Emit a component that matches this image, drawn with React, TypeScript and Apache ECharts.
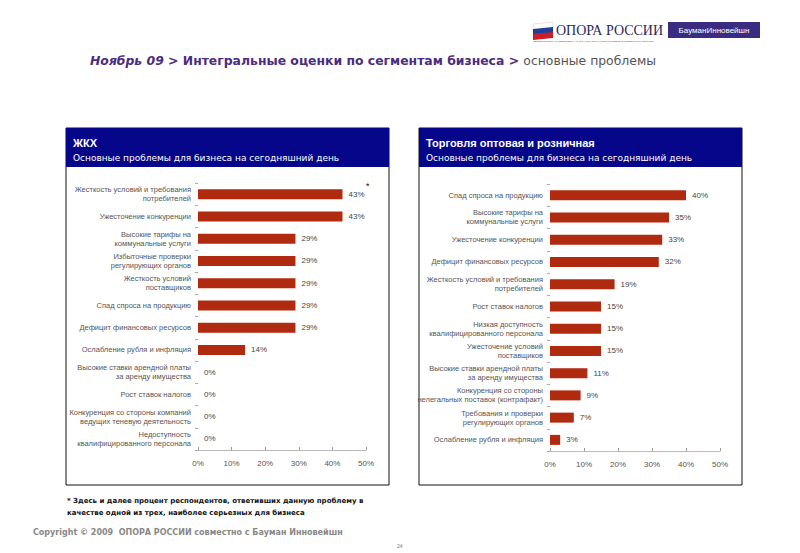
import React, { useEffect, useRef } from "react";
import * as echarts from "echarts";

const leftCategories = [
  "Жесткость условий и требования\nпотребителей",
  "Ужесточение конкуренции",
  "Высокие тарифы на\nкоммунальные услуги",
  "Избыточные проверки\nрегулирующих органов",
  "Жесткость условий\nпоставщиков",
  "Спад спроса на продукцию",
  "Дефицит финансовых ресурсов",
  "Ослабление рубля и инфляция",
  "Высокие ставки арендной платы\nза аренду имущества",
  "Рост ставок налогов",
  "Конкуренция со стороны компаний\nведущих теневую деятельность",
  "Недоступность\nквалифицированного персонала",
];
const leftValues = [43, 43, 29, 29, 29, 29, 29, 14, 0, 0, 0, 0];

const rightCategories = [
  "Спад спроса на продукцию",
  "Высокие тарифы на\nкоммунальные услуги",
  "Ужесточение конкуренции",
  "Дефицит финансовых ресурсов",
  "Жесткость условий и требования\nпотребителей",
  "Рост ставок налогов",
  "Низкая доступность\nквалифицированного персонала",
  "Ужесточение условий\nпоставщиков",
  "Высокие ставки арендной платы\nза аренду имущества",
  "Конкуренция со стороны\nнелегальных поставок (контрафакт)",
  "Требования и проверки\nрегулирующих органов",
  "Ослабление рубля и инфляция",
];
const rightValues = [40, 35, 33, 32, 19, 15, 15, 15, 11, 9, 7, 3];

const xTicks = [0, 10, 20, 30, 40, 50];

const BAR = "#b02a10";
const NAVY = "#06068a";

export default function App() {
  const ref = useRef<HTMLDivElement>(null);
  useEffect(() => {
    if (!ref.current) return;
    const chart = echarts.init(ref.current, null, { renderer: "svg" });

    const xAxisCfg = (gridIndex: number) => ({
      type: "value" as const,
      gridIndex,
      min: xTicks[0],
      max: xTicks[xTicks.length - 1],
      interval: 10,
      axisLine: { show: true, lineStyle: { color: "#b8b8b8", width: 1 } },
      axisTick: { show: true, inside: true, length: 3, lineStyle: { color: "#999" } },
      splitLine: { show: false },
      axisLabel: {
        formatter: "{value}%",
        fontSize: 8,
        color: "#555",
        fontFamily: "Liberation Sans, Arial, sans-serif",
        margin: 9,
      },
    });
    const yAxisCfg = (gridIndex: number, data: string[]) => ({
      type: "category" as const,
      gridIndex,
      data,
      inverse: true,
      axisLine: { show: false },
      axisTick: { show: true, length: 3, lineStyle: { color: "#aaa" } },
      axisLabel: {
        fontSize: 7.5,
        color: "#555",
        lineHeight: 9,
        margin: 7,
        fontFamily: "Liberation Sans, Arial, sans-serif",
      },
    });
    const seriesCfg = (i: number, data: number[]) => ({
      type: "bar" as const,
      xAxisIndex: i,
      yAxisIndex: i,
      data,
      barWidth: 10,
      itemStyle: { color: BAR },
      label: {
        show: true,
        position: "right" as const,
        formatter: "{c}%",
        fontSize: 8,
        color: "#444",
        distance: 6,
        fontFamily: "Liberation Sans, Arial, sans-serif",
      },
    });

    const panel = (x: number, title: string) => [
      {
        type: "rect",
        shape: { x, y: 128, width: 323, height: 357 },
        style: { fill: "#fff", stroke: "#111", lineWidth: 1 },
        z: -10,
      },
      {
        type: "rect",
        shape: { x, y: 128, width: 323, height: 39 },
        style: { fill: NAVY },
        z: -5,
      },
      {
        type: "text",
        x: x + 7,
        y: 137,
        style: {
          text: title,
          fill: "#fff",
          font: "bold 11px Liberation Sans, Arial, sans-serif",
        },
      },
      {
        type: "text",
        x: x + 7,
        y: 153,
        style: {
          text: "Основные проблемы для бизнеса на сегодняшний день",
          fill: "#fff",
          font: "9px DejaVu Sans, Verdana, sans-serif",
        },
      },
    ];

    chart.setOption({
      animation: false,
      backgroundColor: "#fff",
      grid: [
        { left: 198, top: 183, width: 168, height: 267 },
        { left: 550, top: 184, width: 170, height: 267 },
      ],
      xAxis: [xAxisCfg(0), xAxisCfg(1)],
      yAxis: [yAxisCfg(0, leftCategories), yAxisCfg(1, rightCategories)],
      series: [seriesCfg(0, leftValues), seriesCfg(1, rightValues)],
      graphic: [
        ...panel(66, "ЖКХ"),
        ...panel(419, "Торговля оптовая и розничная"),
        {
          type: "text",
          x: 366,
          y: 181,
          style: { text: "*", fill: "#111", font: "9px Liberation Sans, Arial, sans-serif" },
        },
        // logo flag
        {
          type: "polygon",
          shape: { points: [[533, 24], [553, 22], [553, 30], [533, 32]] },
          style: { fill: "#ffffff", stroke: "#ccc", lineWidth: 0.5 },
        },
        {
          type: "polygon",
          shape: { points: [[533, 29], [553, 27], [553, 33], [533, 35]] },
          style: { fill: "#1f3f9a" },
        },
        {
          type: "polygon",
          shape: { points: [[533, 34], [553, 32], [553, 38], [533, 40]] },
          style: { fill: "#c8202a" },
        },
        {
          type: "text",
          x: 556,
          y: 23,
          style: {
            text: "ОПОРА РОССИИ",
            fill: "#2a2a55",
            font: "14px Liberation Serif, Times New Roman, serif",
          },
        },
        {
          type: "text",
          x: 533,
          y: 40,
          style: {
            text: "ОБЩЕРОССИЙСКАЯ ОБЩЕСТВЕННАЯ ОРГАНИЗАЦИЯ МАЛОГО И СРЕДНЕГО ПРЕДПРИНИМАТЕЛЬСТВА",
            fill: "#555",
            font: "2.4px Liberation Sans, Arial, sans-serif",
          },
        },
        {
          type: "rect",
          shape: { x: 668, y: 22, width: 92, height: 16 },
          style: { fill: "#3a2c80" },
        },
        {
          type: "text",
          x: 714,
          y: 30,
          style: {
            text: "БауманИнновейшн",
            fill: "#fff",
            font: "8px Liberation Sans, Arial, sans-serif",
            align: "center",
            verticalAlign: "middle",
          },
        },
        // title
        {
          type: "text",
          x: 90,
          y: 60,
          style: {
            text: "{a|Ноябрь 09}{b| > Интегральные оценки по сегментам бизнеса > }{c|основные проблемы}",
            verticalAlign: "middle",
            rich: {
              a: {
                fontSize: 12.4,
                fontWeight: "bold",
                fontStyle: "italic",
                fill: "#4b2c80",
                fontFamily: "DejaVu Sans, Verdana, sans-serif",
              },
              b: {
                fontSize: 12.4,
                fontWeight: "bold",
                fill: "#4b2c80",
                fontFamily: "DejaVu Sans, Verdana, sans-serif",
              },
              c: {
                fontSize: 12.4,
                fill: "#555",
                fontFamily: "DejaVu Sans, Verdana, sans-serif",
              },
            },
          },
        },
        // footnote
        {
          type: "text",
          x: 67,
          y: 495,
          style: {
            text:
              "* Здесь и далее процент респондентов, ответивших данную проблему в\nкачестве одной из трех, наиболее серьезных для бизнеса",
            fill: "#111",
            font: "bold 7px DejaVu Sans, Verdana, sans-serif",
            lineHeight: 12,
          },
        },
        {
          type: "text",
          x: 33,
          y: 528,
          style: {
            text: "Copyright © 2009  ОПОРА РОССИИ совместно с Бауман Инновейшн",
            fill: "#888",
            font: "bold 8px DejaVu Sans, Verdana, sans-serif",
          },
        },
        {
          type: "text",
          x: 397,
          y: 543,
          style: { text: "24", fill: "#777", font: "5px Liberation Sans, Arial, sans-serif" },
        },
      ],
    });
    return () => chart.dispose();
  }, []);
  return (
    <div
      ref={ref}
      style={{ position: "fixed", left: 0, top: 0, width: 800, height: 553, background: "#fff" }}
    />
  );
}
